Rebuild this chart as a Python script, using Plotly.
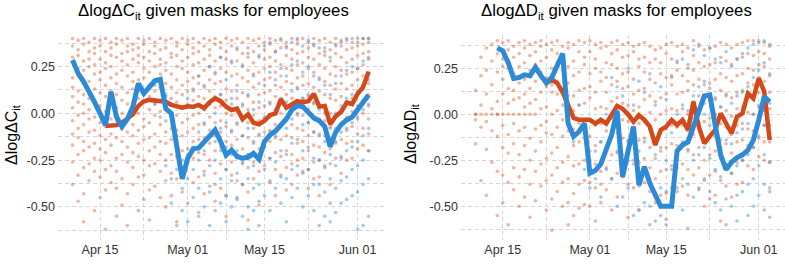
import datetime as dt
import plotly.graph_objects as go

# ---------------- data ----------------
START = dt.date(2020, 4, 10)   # first day shown (day index 0)
N_DAYS = 55                    # Apr 10 .. Jun 3

# Panel 1: ΔlogΔC  — daily group means
c_red_line = [None]*6 + [-0.068, -0.066, -0.063, -0.05, -0.025, -0.005, 0.04, 0.065, 0.072, 0.068,
    0.07, 0.062, 0.045, 0.035, 0.03, 0.038, 0.035, 0.045, 0.028, 0.06,
    0.08, 0.065, 0.035, 0.018, 0.025, -0.03, -0.005, -0.05, -0.058, -0.04,
    -0.01, 0.0, 0.075, 0.03, 0.05, 0.065, 0.06, 0.065, 0.105, 0.036,
    0.04, -0.058, -0.015, 0.008, 0.058, 0.05, 0.105, 0.14, 0.222]
c_blue_line = [0.285, 0.214, 0.17, 0.12, 0.06, 0.0, -0.063, 0.116, -0.018, -0.071,
    -0.03, 0.036, 0.16, 0.107, 0.142, 0.174, 0.182, 0.025, 0.0, -0.16,
    -0.35, -0.24, -0.19, -0.185, -0.152, -0.125, -0.089, -0.15, -0.223, -0.196,
    -0.23, -0.24, -0.235, -0.214, -0.245, -0.15, -0.116, -0.095, -0.06, -0.03,
    0.02, 0.04, 0.036, 0.005, -0.025, -0.04, -0.07, -0.178, -0.1, -0.06,
    -0.035, -0.02, 0.02, 0.062, 0.098]

# Panel 2: ΔlogΔD — daily group means
d_red_line = [None]*13 + [0.17, 0.19, 0.17, 0.12, 0.05, -0.02, -0.03, -0.03, -0.03, -0.05,
    -0.03, -0.05, 0.0, 0.045, 0.03, 0.0, -0.04, -0.005, -0.03, -0.067,
    -0.167, -0.085, -0.067, -0.031, -0.058, -0.031, -0.085, 0.068, -0.067, -0.158,
    -0.12, -0.085, 0.005, -0.049, -0.103, -0.013, 0.005, 0.114, 0.087, 0.196,
    0.123, -0.14]
d_blue_line = [None]*4 + [0.36, 0.345, 0.28, 0.195, 0.2, 0.215, 0.21, 0.255, 0.21, 0.17,
    0.2, 0.27, 0.33, -0.05, -0.12, -0.094, -0.05, -0.32, -0.305, -0.27,
    -0.19, -0.11, 0.02, -0.34, -0.2, -0.067, -0.384, -0.285, -0.375, -0.44,
    -0.5, -0.5, -0.5, -0.2, -0.167, -0.15, -0.067, 0.03, 0.1, 0.105,
    -0.05, -0.22, -0.3, -0.26, -0.235, -0.22, -0.195, -0.14, -0.03, 0.096,
    0.068]

# state-level observations (hundredths), one list per day
c_red_dots = [
    [40,36,30,27,19,14,9,3,-4,-11,-17,-26,-38], [39,34,31,24,20,12,6,-1,-8,-13,-22,-33,-47],
    [40,37,28,23,16,10,5,0,-6,-15,-20,-29,-43,-58], [38,33,29,25,17,8,2,-3,-10,-18,-27,-36],
    [40,35,32,26,21,13,7,-2,-9,-16,-24,-31,-52], [39,36,29,22,18,11,4,-5,-12,-19,-25,-34,-45],
    [40,33,27,24,15,9,1,-7,-14,-21,-30,-41,-62], [38,35,31,25,19,12,6,-3,-11,-17,-28,-37],
    [40,37,30,21,16,10,3,-4,-13,-24,-31,-40,-55], [39,32,28,23,14,7,0,-8,-15,-22,-35,-49],
    [40,36,33,26,20,11,5,-2,-10,-18,-26,-43,-60], [37,34,29,22,17,13,4,-6,-12,-21,-29,-38],
    [40,35,31,27,18,12,8,0,-9,-16,-23,-34,-52], [39,37,30,24,19,10,6,-3,-7,-14,-25,-33,-46],
    [40,33,28,22,15,9,2,-5,-13,-20,-28,-41,-57], [38,36,32,25,17,12,5,-1,-11,-18,-27,-39],
    [40,34,29,26,21,14,7,1,-6,-15,-22,-31,-45], [39,35,27,23,16,9,3,-4,-10,-16,-25,-36,-50],
    [40,32,30,21,14,8,-2,-8,-14,-22,-32,-44], [38,36,31,25,18,11,6,-1,-9,-17,-23,-35,-58],
    [40,34,28,24,15,10,3,-5,-12,-20,-29,-42], [39,37,30,22,17,12,5,-3,-10,-19,-26,-48],
    [40,35,32,26,19,13,7,-1,-8,-15,-24,-37], [38,33,27,20,16,9,0,-6,-14,-21,-34,-53],
    [40,36,29,23,14,8,2,-6,-13,-22,-31,-43], [39,34,31,25,18,12,5,-2,-9,-16,-25,-39],
    [40,37,28,21,16,9,3,-5,-12,-20,-32,-47], [38,35,30,24,17,10,4,-4,-10,-18,-27,-40],
    [40,33,29,22,13,7,0,-7,-15,-23,-30,-44,-55], [39,36,27,20,12,5,-1,-9,-17,-26,-33],
    [40,34,28,21,15,8,2,-6,-14,-24,-36,-45], [38,32,26,19,11,4,-4,-12,-19,-27,-38],
    [40,35,30,23,17,9,2,-5,-13,-22,-29,-42,-57], [39,33,27,21,14,6,-1,-8,-16,-26,-35],
    [40,36,31,22,16,10,3,-4,-11,-19,-31,-49], [38,34,29,24,18,11,4,-3,-10,-18,-28],
    [40,37,30,25,19,12,6,-2,-9,-15,-24,-37], [39,33,28,22,15,9,1,-6,-13,-21,-30,-44],
    [40,35,26,20,14,7,0,-7,-14,-23,-33], [38,36,31,24,17,10,3,-4,-12,-20,-29,-41],
    [40,34,29,23,16,8,1,-6,-13,-22,-27,-38], [39,37,32,26,19,13,6,-1,-8,-16,-25,-33],
    [40,33,27,20,15,8,-1,-9,-15,-24,-31], [38,35,30,24,16,9,2,-5,-12,-20,-30,-40],
    [40,36,29,22,14,6,-2,-10,-17,-26,-35], [39,32,26,19,12,5,-3,-11,-18,-25,-34,-44],
    [40,35,31,24,17,10,3,-4,-12,-21,-29], [38,34,28,21,15,8,0,-7,-13,-19,-27,-38],
    [40,37,32,25,20,13,7,-1,-8,-16,-24], [39,36,30,23,16,9,2,-6,-14,-23,-32],
    [40,34,27,21,13,6,-2,-9,-16,-25], [38,35,29,22,15,8,1,-7,-15,-24],
    [40,36,31,24,18,11,4,-3,-11,-19], [40,37,32,26,20,13,7,0,-8,-17],
    [40,38,33,29,22,16,10,4,-3,-11,-20],
]
c_blue_dots = [[]]*15 + [
    [15,5], [18,-2], [10,-28], [5,-35,-48], [-12,-30,-60], [-25,-40,-52],
    [8,-22,-35,-58], [12,-18,-30,-45], [20,-10,-25,-40,-55], [15,-5,-20,-33,-50],
    [25,5,-12,-28,-42,-60], [22,0,-15,-25,-38,-52], [30,10,-8,-20,-35,-48],
    [18,-5,-18,-30,-44,-58], [28,8,-10,-22,-36,-50], [35,12,-5,-20,-32,-46],
    [25,5,-12,-26,-38,-55], [32,10,-8,-22,-35,-50,-62], [20,2,-15,-28,-40,-52],
    [30,6,-12,-25,-38,-47,-60], [36,15,-2,-18,-30,-44], [38,22,5,-10,-24,-36,-52],
    [33,18,2,-12,-26,-40], [39,24,8,-6,-20,-34,-48], [35,20,6,-8,-22,-35,-58],
    [38,26,12,-3,-16,-30,-45], [40,28,14,0,-14,-28,-40], [36,22,8,-6,-20,-32,-50],
    [39,25,10,-5,-18,-30,-44], [37,20,5,-10,-24,-38,-52], [35,18,2,-12,-25,-38,-60],
    [33,15,0,-15,-28,-42,-55], [30,10,-8,-22,-35,-48,-58], [36,16,0,-15,-28,-40,-53],
    [38,20,4,-10,-24,-36,-48], [39,23,8,-8,-20,-34,-46], [40,25,10,-5,-18,-30,-44],
    [38,24,12,-2,-15,-28,-42,-62], [40,28,15,2,-12,-25,-38,-60], [40,30,18,5,-8,-20,-35,-55],
]

d_red_dots = [
    [0,0,13,-16,-3], [31,0,21,-7,-36,5], [36,24,0,11,-19,-44,-4], [38,29,16,0,-9,-26,3],
    [40,33,23,0,7,-12,-31,-55,0], [39,30,19,11,0,-6,-18,-33,-48,26],
    [40,35,25,14,6,0,-11,-21,-37,-60], [37,31,22,13,0,-5,-16,-29,-41,8],
    [39,33,26,17,9,0,-9,-22,-34,-50], [40,36,28,19,11,0,-7,-17,-30,-45,4],
    [38,32,24,14,6,0,-13,-25,-38,-56], [39,34,27,18,8,0,-8,-20,-31,-47],
    [40,37,29,23,12,3,-6,-15,-27,-39], [38,31,20,15,4,-4,-10,-24,-36,-52],
    [39,35,25,16,12,0,-11,-21,-33,-46,-63], [40,33,28,18,11,2,-7,-18,-29,-42],
    [37,30,24,13,5,-3,-12,-26,-37,-50], [39,36,26,17,7,-2,-9,-23,-35,-48,-60],
    [38,29,21,10,2,-8,-17,-28,-43,-55], [40,34,23,13,5,-5,-15,-27,-38,-51],
    [39,31,27,14,6,-4,-13,-25,-36,-49], [40,34,22,15,9,-3,-12,-20,-37,-50],
    [38,30,25,12,3,-6,-17,-27,-40,-58], [39,36,23,18,4,-5,-15,-31,-38,-48],
    [37,28,20,12,3,-9,-18,-29,-41], [39,33,27,16,7,-2,-12,-22,-35,-52],
    [40,35,25,18,9,0,-10,-21,-32,-45], [38,31,22,14,6,-3,-13,-22,-34],
    [39,32,23,15,5,-4,-14,-25,-38,-56], [37,34,19,11,2,-7,-16,-27,-40],
    [38,30,26,13,4,-5,-14,-26,-39,-52], [39,31,23,14,8,-4,-13,-24,-37],
    [37,28,19,10,1,-8,-18,-29,-42,-60], [35,30,17,7,-3,-13,-24,-35,-48],
    [36,28,22,9,0,-10,-20,-31,-44], [38,33,20,11,2,-8,-18,-30,-43,-57],
    [39,30,21,16,3,-6,-16,-28,-40], [37,29,24,11,2,-7,-17,-29,-42],
    [38,34,21,12,3,-6,-16,-27,-39], [36,27,18,13,0,-9,-19,-30,-44,-62],
    [40,32,24,16,7,-2,-11,-22,-33], [37,28,19,10,1,-8,-18,-29,-41],
    [35,26,16,6,-4,-14,-25,-36,-50], [36,27,17,8,-2,-12,-22,-33,-46],
    [37,28,19,9,0,-10,-20,-31,-44], [39,31,22,13,4,-5,-14,-24,-36,-58],
    [38,29,20,11,2,-7,-16,-27,-39], [36,27,18,9,-1,-11,-21,-32,-45],
    [38,30,21,12,3,-6,-15,-26,-38], [39,31,22,13,4,-5,-14,-25,-37],
    [40,33,25,17,9,1,-8,-17,-28], [40,32,24,16,8,0,-9,-18,-30],
    [40,34,27,20,12,4,-4,-13,-23], [39,33,26,18,10,2,-6,-15,-25],
    [38,30,21,12,3,-6,-15,-26,-40],
]
d_blue_dots = [[]]*17 + [
    [10], [-15], [5], [-30], [-25,-40], [-20,-35], [-15,-45], [0,-30],
    [20,-10,-35], [15,-20,-50], [10,-30,-45], [25,-15,-40], [5,-25,-55],
    [18,-20,-38,-52], [12,-15,-32,-48], [22,-8,-35,-50], [5,-22,-45,-58],
    [15,-18,-40,-55], [8,-25,-42,-60], [20,-10,-30,-48], [28,0,-22,-40],
    [30,5,-15,-35,-52], [25,2,-20,-38], [35,10,-8,-25,-45], [38,15,-5,-22,-40],
    [32,18,0,-18,-35], [36,14,-6,-24,-42], [30,8,-12,-30,-48], [28,4,-18,-34,-52],
    [34,10,-14,-30,-46,-60], [26,6,-16,-32,-50], [30,10,-10,-28,-44,-58],
    [33,12,-8,-25,-42], [36,15,-5,-22,-38,-55], [38,20,0,-18,-35,-50],
    [39,24,5,-12,-28,-44], [40,28,10,-6,-22,-38,-52], [37,22,6,-10,-26,-42,-56],
]

titles = ["ΔlogΔC<sub>it</sub> given masks for employees",
          "ΔlogΔD<sub>it</sub> given masks for employees"]
ytitles = ["ΔlogΔC<sub>it</sub>", "ΔlogΔD<sub>it</sub>"]
x_tick_dates = ["2020-04-15", "2020-05-01", "2020-05-15", "2020-06-01"]
x_tick_text = ["Apr 15", "May 01", "May 15", "Jun 01"]
x_minor_dates = ["2020-04-07", "2020-04-23", "2020-05-08", "2020-05-23"]
y_tick_vals = [0.25, 0.0, -0.25, -0.5]
y_tick_text = ["0.25", "0.00", "-0.25", "-0.50"]
y_minor_vals = [0.375, 0.125, -0.125, -0.375, -0.625]

# ---------------- styling ----------------
RED = "rgb(212,72,26)"
BLUE = "rgb(44,138,214)"
RED_DOT = "rgba(214,80,36,0.42)"
BLUE_DOT = "rgba(50,140,214,0.45)"
GRID = "rgb(214,214,214)"
FONT = "Liberation Sans, Arial, sans-serif"
W, H = 785, 264
ML, MR, MT, MB = 58, 0, 35, 24
PW = W - ML - MR
PH = H - MT - MB

dates = [START + dt.timedelta(days=i) for i in range(N_DAYS)]


def flatten(day_lists):
    xs, ys = [], []
    for i, vals in enumerate(day_lists):
        for v in vals:
            xs.append(dates[i])
            ys.append(v / 100.0)
    return xs, ys


fig = go.Figure()
panels = [
    (c_red_dots, c_blue_dots, c_red_line, c_blue_line, "x", "y"),
    (d_red_dots, d_blue_dots, d_red_line, d_blue_line, "x2", "y2"),
]
for rd, bd, rl, bl, xa, ya in panels:
    xs, ys = flatten(rd)
    fig.add_trace(go.Scatter(x=xs, y=ys, mode="markers", xaxis=xa, yaxis=ya,
                             marker=dict(size=3.6, color=RED_DOT, line=dict(width=0)),
                             showlegend=False, hoverinfo="skip"))
    xs, ys = flatten(bd)
    fig.add_trace(go.Scatter(x=xs, y=ys, mode="markers", xaxis=xa, yaxis=ya,
                             marker=dict(size=3.6, color=BLUE_DOT, line=dict(width=0)),
                             showlegend=False, hoverinfo="skip"))
    fig.add_trace(go.Scatter(x=dates, y=rl, mode="lines", xaxis=xa, yaxis=ya,
                             line=dict(color=RED, width=4.5), connectgaps=False,
                             showlegend=False))
    fig.add_trace(go.Scatter(x=dates, y=bl, mode="lines", xaxis=xa, yaxis=ya,
                             line=dict(color=BLUE, width=5), connectgaps=False,
                             showlegend=False))

x_range = ["2020-04-07 08:00", "2020-06-05 19:30"]
common_x = dict(type="date", range=x_range, tickvals=x_tick_dates, ticktext=x_tick_text,
                showgrid=True, gridcolor=GRID, griddash="4px,3px", gridwidth=1,
                zeroline=False, showline=False, ticks="",
                tickfont=dict(family=FONT, size=12.5, color="#333"),
                minor=dict(tickvals=x_minor_dates, showgrid=True, gridcolor=GRID,
                           griddash="4px,3px", gridwidth=1, ticks=""))
common_y = dict(tickvals=y_tick_vals, ticktext=y_tick_text,
                showgrid=True, gridcolor=GRID, griddash="4px,3px", gridwidth=1,
                zeroline=False, showline=False, ticks="", ticklabelstandoff=2,
                tickfont=dict(family=FONT, size=12.5, color="#333"),
                minor=dict(tickvals=y_minor_vals, showgrid=True, gridcolor=GRID,
                           griddash="4px,3px", gridwidth=1, ticks=""))

left_dom = [0, (384 - ML) / PW]
right_dom = [(461 - ML) / PW, 1]

fig.update_layout(
    width=W, height=H,
    margin=dict(l=ML, r=MR, t=MT, b=MB),
    paper_bgcolor="white", plot_bgcolor="white",
    font=dict(family=FONT, color="#000"),
    xaxis=dict(domain=left_dom, anchor="y", **common_x),
    yaxis=dict(domain=[0, 1], anchor="x", range=[-0.677, 0.419], **common_y),
    xaxis2=dict(domain=right_dom, anchor="y2", **common_x),
    yaxis2=dict(domain=[0, 1], anchor="x2", range=[-0.683, 0.431], **common_y),
)


def px_x(px):
    return (px - ML) / PW


def px_y(py):
    return 1 - (py - MT) / PH


for txt, px in [(titles[0], 213), (titles[1], 616)]:
    fig.add_annotation(xref="paper", yref="paper", x=px_x(px), y=px_y(12), text=txt,
                       showarrow=False, xanchor="center", yanchor="middle",
                       font=dict(family=FONT, size=16.8, color="#000"))
for txt, px in [(ytitles[0], 12), (ytitles[1], 411)]:
    fig.add_annotation(xref="paper", yref="paper", x=px_x(px), y=px_y(134), text=txt,
                       showarrow=False, textangle=-90, xanchor="center", yanchor="middle",
                       font=dict(family=FONT, size=16, color="#000"))

# remove the browser's default 8px page margin so the 785x264 figure fills the window
fig.write_html("out.html", config={"displayModeBar": False},
               post_script="document.body.style.margin='0px';document.body.style.overflow='hidden';")
